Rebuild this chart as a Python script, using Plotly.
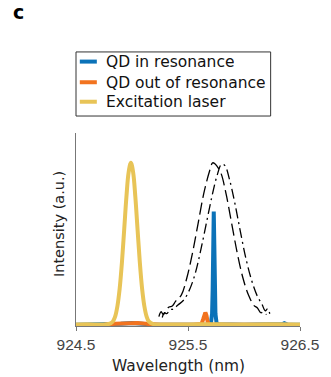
import plotly.graph_objects as go

# Excitation laser (yellow)
laser_x = [924.50, 924.60, 924.70, 924.75, 924.79, 924.81, 924.83, 924.85, 924.87, 924.89, 924.91,
           924.93, 924.95, 924.97, 924.99, 925.01, 925.03, 925.05, 925.07, 925.09, 925.11,
           925.13, 925.15, 925.19, 925.30, 925.50, 925.70, 925.90, 926.10, 926.30, 926.50]
laser_y = [0.004, 0.005, 0.004, 0.004, 0.006, 0.010, 0.020, 0.046, 0.100, 0.191, 0.326,
           0.495, 0.666, 0.796, 0.845, 0.796, 0.666, 0.495, 0.326, 0.191, 0.100,
           0.046, 0.020, 0.006, 0.004, 0.004, 0.005, 0.004, 0.004, 0.005, 0.004]

# QD in resonance (blue)
res_x = [924.50, 924.80, 924.90, 925.00, 925.10, 925.20, 925.50, 925.69, 925.705, 925.715,
         925.72, 925.725, 925.73, 925.735, 925.74, 925.745, 925.755, 925.77, 926.00,
         926.33, 926.35, 926.36, 926.37, 926.39, 926.50]
res_y = [0.002, 0.003, 0.008, 0.012, 0.008, 0.003, 0.002, 0.004, 0.012, 0.06,
         0.18, 0.42, 0.592, 0.42, 0.18, 0.06, 0.012, 0.005, 0.003,
         0.003, 0.007, 0.010, 0.007, 0.003, 0.002]

# QD out of resonance (orange)
off_x = [924.50, 924.75, 924.85, 924.95, 925.00, 925.05, 925.15, 925.25, 925.55, 925.62,
         925.635, 925.645, 925.655, 925.665, 925.675, 925.69, 925.80, 926.10, 926.50]
off_y = [0.001, 0.002, 0.008, 0.012, 0.013, 0.012, 0.007, 0.002, 0.002, 0.006,
         0.03, 0.058, 0.066, 0.05, 0.02, 0.004, 0.002, 0.002, 0.001]

# Dashed envelope
dash_x = [925.24, 925.26, 925.28, 925.30, 925.33, 925.36, 925.39, 925.44, 925.49, 925.54,
          925.59, 925.64, 925.69, 925.72, 925.74, 925.79, 925.84, 925.89, 925.94,
          925.99, 926.04, 926.09, 926.12, 926.15, 926.18, 926.20]
dash_y = [0.045, 0.070, 0.055, 0.075, 0.095, 0.100, 0.125, 0.157, 0.247, 0.375,
          0.529, 0.683, 0.797, 0.845, 0.840, 0.797, 0.683, 0.529, 0.375,
          0.247, 0.157, 0.102, 0.090, 0.065, 0.070, 0.055]

# Dash-dot envelope
dashdot_x = [925.27, 925.29, 925.31, 925.34, 925.37, 925.41, 925.46, 925.51, 925.56, 925.61,
             925.66, 925.71, 925.76, 925.80, 925.83, 925.87, 925.92, 925.97, 926.02,
             926.07, 926.12, 926.16, 926.19, 926.21, 926.23]
dashdot_y = [0.040, 0.065, 0.060, 0.080, 0.085, 0.105, 0.130, 0.180, 0.260, 0.380,
             0.520, 0.660, 0.780, 0.838, 0.830, 0.760, 0.630, 0.480, 0.340,
             0.230, 0.150, 0.110, 0.075, 0.085, 0.060]

x_ticks = [924.5, 925.5, 926.5]
x_tick_text = ["924.5", "925.5", "926.5"]
series_names = ["QD in resonance", "QD out of resonance", "Excitation laser"]

BLUE = "#0B72B8"
ORANGE = "#F2731F"
YELLOW = "#E8C457"
colors = [BLUE, ORANGE, YELLOW]
FONT = "DejaVu Sans"

fig = go.Figure()
fig.add_trace(go.Scatter(x=dash_x, y=dash_y, mode="lines", showlegend=False,
                         line=dict(color="black", width=1.3, dash="12px,5px", shape="spline")))
fig.add_trace(go.Scatter(x=dashdot_x, y=dashdot_y, mode="lines", showlegend=False,
                         line=dict(color="black", width=1.3, dash="10px,4px,2px,4px", shape="spline")))
fig.add_trace(go.Scatter(x=res_x, y=res_y, mode="lines", name=series_names[0], showlegend=False,
                         line=dict(color=BLUE, width=4)))
fig.add_trace(go.Scatter(x=off_x, y=off_y, mode="lines", name=series_names[1], showlegend=False,
                         line=dict(color=ORANGE, width=4)))
fig.add_trace(go.Scatter(x=laser_x, y=laser_y, mode="lines", name=series_names[2], showlegend=False,
                         line=dict(color=YELLOW, width=4, shape="spline")))

# Custom legend (box, short line samples, labels)
shapes = [dict(type="rect", xref="paper", yref="paper", x0=0, x1=0.869, y0=1.088, y1=1.420,
               line=dict(color="#333", width=1), fillcolor="white", layer="above")]
annotations = []
legend_rows = [1.370, 1.263, 1.162]
for name, col, yy in zip(series_names, colors, legend_rows):
    shapes.append(dict(type="line", xref="paper", yref="paper", x0=0.017, x1=0.093, y0=yy, y1=yy,
                       line=dict(color=col, width=4), layer="above"))
    annotations.append(dict(text=name, xref="paper", yref="paper", x=0.127, y=yy,
                            xanchor="left", yanchor="middle", showarrow=False, height=17,
                            font=dict(size=15.5, color="#111")))

annotations += [
    dict(text="Intensity (a.u.)", xref="paper", yref="paper", x=-0.076, y=0.528,
         textangle=-90, showarrow=False, xanchor="center", yanchor="middle",
         font=dict(size=14.5, color="#222")),
    dict(text="Wavelength (nm)", xref="paper", yref="paper", x=0.458, y=-0.207,
         showarrow=False, xanchor="center", yanchor="middle",
         font=dict(size=15.4, color="#222")),
    dict(text="<b>c</b>", xref="paper", yref="paper", x=-0.292, y=1.625,
         showarrow=False, xanchor="left", yanchor="middle",
         font=dict(size=19, color="black", family="DejaVu Sans")),
]

fig.update_layout(
    width=331, height=377,
    margin=dict(l=76, r=19, t=133, b=51),
    paper_bgcolor="white", plot_bgcolor="white",
    font=dict(family=FONT, size=14, color="#222"),
    showlegend=False,
    shapes=shapes,
    annotations=annotations,
    xaxis=dict(range=[924.5, 926.5], tickvals=x_ticks, ticktext=x_tick_text,
               showgrid=False, zeroline=False, showline=True, linecolor="#777", linewidth=1,
               ticks="outside", ticklen=4, tickcolor="#777", ticklabeloverflow="allow",
               tickfont=dict(size=15.5, color="#444", family="Liberation Sans")),
    yaxis=dict(range=[-0.004, 1.0], showgrid=False, zeroline=False, showline=True,
               linecolor="#777", linewidth=1, showticklabels=False, ticks=""),
)

fig.write_html("out.html")
